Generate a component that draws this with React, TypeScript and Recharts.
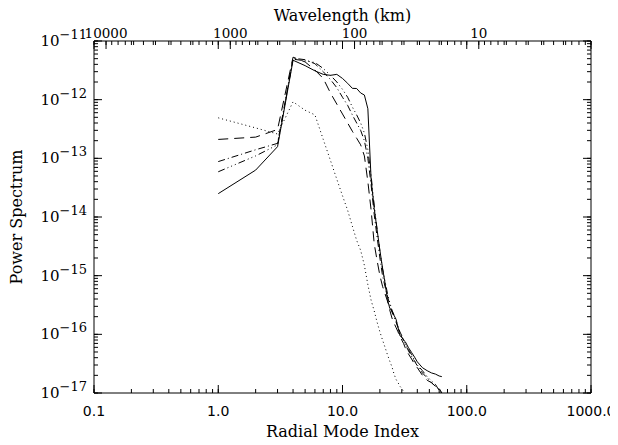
import { LineChart, Line, XAxis, YAxis } from 'recharts'

// radial mode index n (x) and power spectrum of each run (y)
const modes = [
  1, 2, 3, 4, 5, 6, 7, 8, 9, 10, 11, 12, 13, 14, 15, 16, 17, 18, 19, 20,
  21, 22, 23, 24, 25, 26, 27, 28, 29, 30, 31, 32, 34, 36, 38, 40, 44, 48, 52, 56, 60, 63,
]

const solid = [
  2.5e-14, 6.3e-14, 1.58e-13, 4.7e-12, 3.8e-12, 3.1e-12, 2.7e-12, 2.6e-12, 2.7e-12, 2.3e-12,
  1.9e-12, 1.56e-12, 1.55e-12, 1.3e-12, 1.2e-12, 7e-13, 4.3e-14, 1.4e-14, 6e-15, 2.7e-15,
  1.35e-15, 7.5e-16, 3.9e-16, 2.8e-16, 2.5e-16, 2.1e-16, 1.8e-16, 1.3e-16, 9.5e-17, 8.8e-17, 8e-17,
  7.5e-17, 5.9e-17, 4.9e-17, 4.1e-17, 3.4e-17, 2.7e-17, 2.4e-17, 2.2e-17, 2.1e-17, 1.95e-17, 1.9e-17,
]

const dashed = [
  2.1e-13, 2.3e-13, 3.1e-13, 5.3e-12, 4.4e-12, 3.2e-12, 2.3e-12, 1.3e-12, 8.4e-13, 5.7e-13,
  4e-13, 2.9e-13, 2.2e-13, 1.7e-13, 1.1e-13, 4e-14, 1.3e-14, 3.5e-15, 1.8e-15, 1.0e-15,
  6.6e-16, 4.9e-16, 3.7e-16, 2.6e-16, 1.9e-16, 1.55e-16, 1.3e-16, 1.1e-16, 9e-17, 8e-17, 7e-17,
  5.9e-17, 4.6e-17, 3.8e-17, 3.1e-17, 2.7e-17, 2.0e-17, 1.65e-17, 1.5e-17, 1.3e-17, 1.2e-17, 1.0e-17,
]

const dashDot = [
  8.8e-14, 1.4e-13, 1.8e-13, 5.1e-12, 4.8e-12, 4.1e-12, 3.0e-12, 2.2e-12, 1.6e-12, 1.1e-12,
  8e-13, 5.5e-13, 4e-13, 3e-13, 2e-13, 1.0e-13, 3.5e-14, 1.1e-14, 4.5e-15, 2.0e-15,
  1.0e-15, 6.5e-16, 4.5e-16, 3.2e-16, 2.4e-16, 2e-16, 1.6e-16, 1.3e-16, 1.05e-16, 9e-17, 8e-17,
  6.8e-17, 5.2e-17, 4.2e-17, 3.5e-17, 2.9e-17, 2.2e-17, 1.8e-17, 1.5e-17, 1.3e-17, 1.15e-17, 1.0e-17,
]

const dashDotDot = [
  5.9e-14, 1.1e-13, 1.7e-13, 4.9e-12, 4.6e-12, 4.3e-12, 3.4e-12, 2.6e-12, 2.0e-12, 1.5e-12,
  1.1e-12, 7.5e-13, 5.5e-13, 4e-13, 2.7e-13, 1.4e-13, 5e-14, 1.6e-14, 6e-15, 2.6e-15,
  1.3e-15, 8e-16, 5e-16, 3.5e-16, 2.6e-16, 2.1e-16, 1.7e-16, 1.35e-16, 1.1e-16, 9.5e-17, 8.2e-17,
  7e-17, 5.5e-17, 4.5e-17, 3.6e-17, 3.0e-17, 2.4e-17, 1.9e-17, 1.6e-17, 1.4e-17, 1.1e-17, 9e-18,
]

const dotted = [
  4.9e-13, 3.3e-13, 2.6e-13, 9.2e-13, 6.6e-13, 5.5e-13, 2.1e-13, 9.2e-14, 4.4e-14, 2.3e-14,
  1.3e-14, 7e-15, 4e-15, 2.7e-15, 1.5e-15, 7e-16, 3.8e-16, 2.5e-16, 1.6e-16, 1.1e-16,
  8e-17, 6e-17, 4.5e-17, 3.5e-17, 2.8e-17, 2.1e-17, 1.7e-17, 1.5e-17, 1.3e-17, 1.2e-17, 1.05e-17,
]

// axis ticks
const xMajorTicks = [0.1, 1, 10, 100, 1000]
const xTickLabels = ['0.1', '1.0', '10.0', '100.0', '1000.0']
const wavelengths = [10000, 1000, 100, 10]
const wavelengthLabels = ['10000', '1000', '100', '10']
const yExponents = [-17, -16, -15, -14, -13, -12, -11]
const KM_PER_MODE = 1250

const decadeMinors = (lo: number, hi: number) => {
  const out: number[] = []
  for (let m = lo; m <= hi; m++) for (let k = 2; k <= 9; k++) out.push(k * Math.pow(10, m))
  return out
}

const xTicks = [...xMajorTicks, ...decadeMinors(-1, 2)].sort((a, b) => a - b)
const yMajorTicks = yExponents.map((e) => Math.pow(10, e))
const yTicks = [...yMajorTicks, ...decadeMinors(-17, -12)].sort((a, b) => a - b)

// top axis: mirrored mode ticks plus wavelength ticks
const topMajor: Record<string, boolean> = {}
const topLabel: Record<string, string> = {}
xTicks.forEach((v) => (topMajor[String(v)] = xMajorTicks.includes(v)))
wavelengths.forEach((w, i) => {
  topMajor[String(KM_PER_MODE / w)] = true
  topLabel[String(KM_PER_MODE / w)] = wavelengthLabels[i]
})
decadeMinors(0, 3).forEach((w) => (topMajor[String(KM_PER_MODE / w)] = false))
const topTicks = Object.keys(topMajor).map(Number).sort((a, b) => a - b)

const data = modes.map((n, i) => ({
  n,
  solid: solid[i] ?? null,
  dashed: dashed[i] ?? null,
  dashDot: dashDot[i] ?? null,
  dashDotDot: dashDotDot[i] ?? null,
  dotted: dotted[i] ?? null,
}))

const SERIF = '"DejaVu Serif", serif'
const SANS = '"DejaVu Sans", sans-serif'
const MINOR = 4
const MAJOR = 8

// built-in tick lines give the short (minor) marks; majors get the extra length here
function BottomTick({ x, y, payload }: any) {
  const i = xMajorTicks.indexOf(payload.value)
  if (i < 0) return <g />
  return (
    <g>
      <line x1={x} y1={y} x2={x} y2={y - MAJOR} stroke="#000" strokeWidth={1} />
      <text x={x} y={y + 23} textAnchor="middle" fontFamily={SANS} fontSize={14} fill="#000">
        {xTickLabels[i]}
      </text>
    </g>
  )
}

function TopTick({ x, y, payload }: any) {
  const key = String(payload.value)
  if (!topMajor[key]) return <g />
  const label = topLabel[key]
  return (
    <g>
      <line x1={x} y1={y} x2={x} y2={y + MAJOR} stroke="#000" strokeWidth={1} />
      {label && (
        <text x={x} y={y - 3} textAnchor="middle" fontFamily={SERIF} fontSize={13.5} fill="#000">
          {label}
        </text>
      )}
    </g>
  )
}

function LeftTick({ x, y, payload }: any) {
  const i = yMajorTicks.indexOf(payload.value)
  if (i < 0) return <g />
  return (
    <g>
      <line x1={x} y1={y} x2={x + MAJOR} y2={y} stroke="#000" strokeWidth={1} />
      <text x={x - 7} y={y + 5} textAnchor="end" fontFamily={SERIF} fontSize={15} fill="#000">
        10
        <tspan dy={-7} fontSize={13}>
          {'\u2212' + Math.abs(yExponents[i])}
        </tspan>
      </text>
    </g>
  )
}

function RightTick({ x, y, payload }: any) {
  if (!yMajorTicks.includes(payload.value)) return <g />
  return <line x1={x - MAJOR} y1={y} x2={x} y2={y} stroke="#000" strokeWidth={1} />
}

const titleStyle = { fontFamily: SERIF, fontSize: 16, fill: '#000' }
const axisBase = {
  type: 'number' as const,
  scale: 'log' as const,
  allowDataOverflow: true,
  interval: 0 as const,
  tickSize: -MINOR,
  tickMargin: MINOR,
  tickLine: { stroke: '#000' },
  axisLine: { stroke: '#000' },
  stroke: '#000',
}

export default function App() {
  return (
    <LineChart width={610} height={437} data={data} margin={{ top: 0, right: 17, bottom: 0, left: 0 }}>
      <XAxis
        {...axisBase}
        dataKey="n"
        domain={[0.1, 1000]}
        ticks={xTicks}
        tick={(p: any) => <BottomTick {...p} />}
        height={52}
        label={{ value: 'Radial Mode Index', position: 'insideBottom', offset: 8, ...titleStyle }}
      />
      <XAxis
        {...axisBase}
        xAxisId="top"
        orientation="top"
        dataKey="n"
        domain={[0.1, 1000]}
        ticks={topTicks}
        tick={(p: any) => <TopTick {...p} />}
        height={33}
        label={{ value: 'Wavelength (km)', position: 'insideTop', offset: 2, ...titleStyle }}
      />
      <YAxis
        {...axisBase}
        domain={[1e-17, 1e-11]}
        ticks={yTicks}
        tick={(p: any) => <LeftTick {...p} />}
        width={86}
        label={{ value: 'Power Spectrum', angle: -90, position: 'insideLeft', offset: 0, dx: 8, ...titleStyle, style: { textAnchor: 'middle' } }}
      />
      <YAxis
        {...axisBase}
        yAxisId="right"
        orientation="right"
        domain={[1e-17, 1e-11]}
        ticks={yTicks}
        tick={(p: any) => <RightTick {...p} />}
        width={10}
      />
      <Line xAxisId="top" yAxisId="right" dataKey="solid" stroke="none" dot={false} isAnimationActive={false} />
      <Line dataKey="dotted" stroke="#000" strokeWidth={1} strokeDasharray="1 3" dot={false} isAnimationActive={false} />
      <Line dataKey="dashed" stroke="#000" strokeWidth={1} strokeDasharray="10 6" dot={false} isAnimationActive={false} />
      <Line dataKey="dashDot" stroke="#000" strokeWidth={1} strokeDasharray="7 3 1 3" dot={false} isAnimationActive={false} />
      <Line dataKey="dashDotDot" stroke="#000" strokeWidth={1} strokeDasharray="7 3 1 3 1 3 1 3" dot={false} isAnimationActive={false} />
      <Line dataKey="solid" stroke="#000" strokeWidth={1} dot={false} isAnimationActive={false} />
    </LineChart>
  )
}
